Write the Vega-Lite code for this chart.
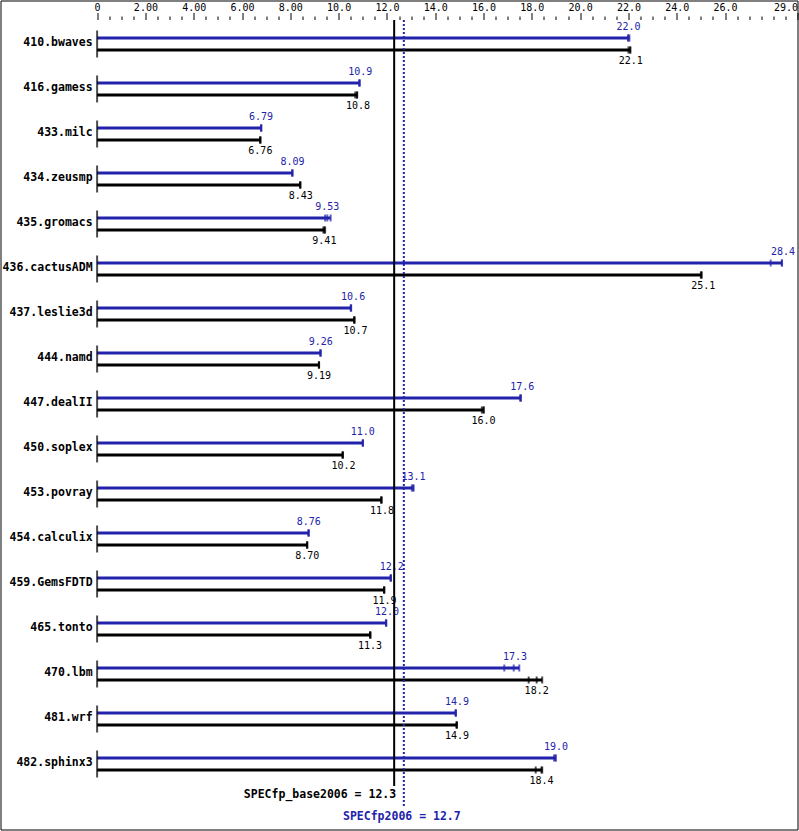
{
  "$schema": "https://vega.github.io/schema/vega-lite/v6.json",
  "width": 797,
  "height": 829,
  "autosize": "none",
  "padding": {"left": 0.5, "top": 0.5, "right": 1.5, "bottom": 1.5},
  "background": "white",
  "config": {"view": {"stroke": "black", "strokeWidth": 1}, "font": "DejaVu Sans Mono"},
  "resolve": {"axis": {"x": "independent"}},
  "datasets": {
    "scores": [
      {"bench": "410.bwaves", "type": "peak", "value": 22.0, "r1": 21.98, "r2": 22.0, "r3": 22.04},
      {"bench": "410.bwaves", "type": "base", "value": 22.1, "r1": 22.0, "r2": 22.07, "r3": 22.08},
      {"bench": "416.gamess", "type": "peak", "value": 10.9, "r1": 10.86, "r2": 10.86, "r3": 10.87},
      {"bench": "416.gamess", "type": "base", "value": 10.8, "r1": 10.69, "r2": 10.76, "r3": 10.77},
      {"bench": "433.milc", "type": "peak", "value": 6.79, "r1": 6.79, "r2": 6.79, "r3": 6.8},
      {"bench": "433.milc", "type": "base", "value": 6.76, "r1": 6.75, "r2": 6.76, "r3": 6.76},
      {"bench": "434.zeusmp", "type": "peak", "value": 8.09, "r1": 8.08, "r2": 8.08, "r3": 8.09},
      {"bench": "434.zeusmp", "type": "base", "value": 8.43, "r1": 8.4, "r2": 8.41, "r3": 8.42},
      {"bench": "435.gromacs", "type": "peak", "value": 9.53, "r1": 9.44, "r2": 9.53, "r3": 9.67},
      {"bench": "435.gromacs", "type": "base", "value": 9.41, "r1": 9.37, "r2": 9.41, "r3": 9.44},
      {"bench": "436.cactusADM", "type": "peak", "value": 28.4, "r1": 27.89, "r2": 28.35, "r3": 28.36},
      {"bench": "436.cactusADM", "type": "base", "value": 25.1, "r1": 25.0, "r2": 25.02, "r3": 25.03},
      {"bench": "437.leslie3d", "type": "peak", "value": 10.6, "r1": 10.5, "r2": 10.51, "r3": 10.52},
      {"bench": "437.leslie3d", "type": "base", "value": 10.7, "r1": 10.64, "r2": 10.65, "r3": 10.66},
      {"bench": "444.namd", "type": "peak", "value": 9.26, "r1": 9.24, "r2": 9.25, "r3": 9.26},
      {"bench": "444.namd", "type": "base", "value": 9.19, "r1": 9.18, "r2": 9.19, "r3": 9.19},
      {"bench": "447.dealII", "type": "peak", "value": 17.6, "r1": 17.52, "r2": 17.53, "r3": 17.55},
      {"bench": "447.dealII", "type": "base", "value": 16.0, "r1": 15.93, "r2": 16.0, "r3": 16.01},
      {"bench": "450.soplex", "type": "peak", "value": 11.0, "r1": 11.0, "r2": 11.0, "r3": 11.01},
      {"bench": "450.soplex", "type": "base", "value": 10.2, "r1": 10.16, "r2": 10.17, "r3": 10.18},
      {"bench": "453.povray", "type": "peak", "value": 13.1, "r1": 13.03, "r2": 13.09, "r3": 13.1},
      {"bench": "453.povray", "type": "base", "value": 11.8, "r1": 11.76, "r2": 11.77, "r3": 11.78},
      {"bench": "454.calculix", "type": "peak", "value": 8.76, "r1": 8.75, "r2": 8.76, "r3": 8.76},
      {"bench": "454.calculix", "type": "base", "value": 8.7, "r1": 8.69, "r2": 8.7, "r3": 8.7},
      {"bench": "459.GemsFDTD", "type": "peak", "value": 12.2, "r1": 12.15, "r2": 12.16, "r3": 12.17},
      {"bench": "459.GemsFDTD", "type": "base", "value": 11.9, "r1": 11.88, "r2": 11.89, "r3": 11.89},
      {"bench": "465.tonto", "type": "peak", "value": 12.0, "r1": 11.96, "r2": 11.97, "r3": 11.97},
      {"bench": "465.tonto", "type": "base", "value": 11.3, "r1": 11.3, "r2": 11.31, "r3": 11.32},
      {"bench": "470.lbm", "type": "peak", "value": 17.3, "r1": 16.86, "r2": 17.25, "r3": 17.48},
      {"bench": "470.lbm", "type": "base", "value": 18.2, "r1": 17.87, "r2": 18.2, "r3": 18.43},
      {"bench": "481.wrf", "type": "peak", "value": 14.9, "r1": 14.84, "r2": 14.85, "r3": 14.86},
      {"bench": "481.wrf", "type": "base", "value": 14.9, "r1": 14.88, "r2": 14.89, "r3": 14.9},
      {"bench": "482.sphinx3", "type": "peak", "value": 19.0, "r1": 18.92, "r2": 18.98, "r3": 18.99},
      {"bench": "482.sphinx3", "type": "base", "value": 18.4, "r1": 18.16, "r2": 18.4, "r3": 18.43}
    ],
    "refs": [
      {"type": "base", "v": 12.3, "text": "SPECfp_base2006 = 12.3"},
      {"type": "peak", "v": 12.7, "text": "SPECfp2006 = 12.7"}
    ]
  },
  "layer": [
    {
      "data": {"name": "scores"},
      "transform": [
        {"fold": ["r1", "r2", "r3"], "as": ["run", "rv"]},
        {"aggregate": [{"op": "max", "field": "rv", "as": "end"}], "groupby": ["bench", "type"]},
        {"filter": "datum.type == 'peak'"}
      ],
      "mark": {"type": "bar", "height": 3, "yOffset": -6, "color": "#2222aa"},
      "encoding": {
        "x": {
          "field": "end", "type": "quantitative",
          "scale": {"domain": [-4, 29], "nice": false, "zero": false},
          "axis": {
            "orient": "top", "offset": -19, "domain": false, "grid": false, "title": null,
            "values": [0, 2, 4, 6, 8, 10, 12, 14, 16, 18, 20, 22, 24, 26, 29],
            "tickSize": 7, "tickColor": "black", "tickWidth": 1,
            "labelExpr": "datum.value == 0 ? '0' : (datum.value < 10 ? format(datum.value, '.2f') : format(datum.value, '.1f'))",
            "labelFont": "DejaVu Sans Mono", "labelFontSize": 10, "labelColor": "black", "labelPadding": 0,
            "labelOverlap": false, "labelBound": false, "labelFlush": true
          }
        },
        "x2": {"datum": 0},
        "y": {"field": "bench", "type": "nominal", "sort": null, "axis": null,
              "scale": {"paddingInner": 0, "paddingOuter": 0.7111, "align": 0.328}}
      }
    },
    {
      "data": {"name": "scores"},
      "transform": [
        {"fold": ["r1", "r2", "r3"], "as": ["run", "rv"]},
        {"aggregate": [{"op": "max", "field": "rv", "as": "end"}], "groupby": ["bench", "type"]},
        {"filter": "datum.type == 'base'"}
      ],
      "mark": {"type": "bar", "height": 3, "yOffset": 6, "color": "black"},
      "encoding": {
        "x": {
          "field": "end", "type": "quantitative",
          "axis": {
            "orient": "top", "offset": -19, "domain": false, "grid": false, "title": null, "labels": false,
            "values": [0.5, 1, 1.5, 2.5, 3, 3.5, 4.5, 5, 5.5, 6.5, 7, 7.5, 8.5, 9, 9.5, 10.5, 11, 11.5, 12.5, 13, 13.5, 14.5, 15, 15.5, 16.5, 17, 17.5, 18.5, 19, 19.5, 20.5, 21, 21.5, 22.5, 23, 23.5, 24.5, 25, 25.5, 26.5, 27, 27.5, 28, 28.5],
            "tickSize": 3.5, "tickColor": "black", "tickWidth": 1
          }
        },
        "x2": {"datum": 0},
        "y": {"field": "bench", "type": "nominal", "sort": null, "axis": null}
      }
    },
    {
      "data": {"name": "scores"},
      "transform": [{"filter": "datum.type == 'peak'"}, {"fold": ["r1", "r2", "r3"], "as": ["run", "rv"]}],
      "mark": {"type": "tick", "size": 7, "thickness": 2, "yOffset": -6, "color": "#2222aa"},
      "encoding": {
        "x": {"field": "rv", "type": "quantitative", "axis": null},
        "y": {"field": "bench", "type": "nominal", "sort": null, "axis": null}
      }
    },
    {
      "data": {"name": "scores"},
      "transform": [{"filter": "datum.type == 'base'"}, {"fold": ["r1", "r2", "r3"], "as": ["run", "rv"]}],
      "mark": {"type": "tick", "size": 7, "thickness": 2, "yOffset": 6, "color": "black"},
      "encoding": {
        "x": {"field": "rv", "type": "quantitative", "axis": null},
        "y": {"field": "bench", "type": "nominal", "sort": null, "axis": null}
      }
    },
    {
      "data": {"name": "scores"},
      "transform": [{"filter": "datum.type == 'peak'"}],
      "mark": {"type": "tick", "size": 27, "thickness": 2, "color": "black"},
      "encoding": {
        "x": {"datum": 0, "type": "quantitative", "axis": null},
        "y": {"field": "bench", "type": "nominal", "sort": null, "axis": null}
      }
    },
    {
      "data": {"name": "scores"},
      "transform": [{"filter": "datum.type == 'peak'"}],
      "mark": {"type": "text", "yOffset": -17, "fontSize": 10, "color": "#2222aa", "baseline": "middle", "align": "center"},
      "encoding": {
        "x": {"field": "value", "type": "quantitative", "axis": null},
        "y": {"field": "bench", "type": "nominal", "sort": null, "axis": null},
        "text": {"field": "value", "type": "quantitative", "format": ".3r"}
      }
    },
    {
      "data": {"name": "scores"},
      "transform": [{"filter": "datum.type == 'base'"}],
      "mark": {"type": "text", "yOffset": 17, "fontSize": 10, "color": "black", "baseline": "middle", "align": "center"},
      "encoding": {
        "x": {"field": "value", "type": "quantitative", "axis": null},
        "y": {"field": "bench", "type": "nominal", "sort": null, "axis": null},
        "text": {"field": "value", "type": "quantitative", "format": ".3r"}
      }
    },
    {
      "data": {"name": "scores"},
      "transform": [{"filter": "datum.type == 'peak'"}],
      "mark": {"type": "text", "dx": -4.5, "dy": -0.5, "fontSize": 11.5, "fontWeight": "bold", "color": "black", "baseline": "middle", "align": "right"},
      "encoding": {
        "x": {"datum": 0, "type": "quantitative", "axis": null},
        "y": {"field": "bench", "type": "nominal", "sort": null, "axis": null},
        "text": {"field": "bench", "type": "nominal"}
      }
    },
    {
      "data": {"name": "refs"},
      "transform": [{"filter": "datum.type == 'base'"}],
      "mark": {"type": "rule", "strokeWidth": 2, "color": "black", "yOffset": -24, "y2Offset": 22},
      "encoding": {
        "x": {"field": "v", "type": "quantitative", "axis": null},
        "y": {"datum": "410.bwaves", "type": "nominal"},
        "y2": {"datum": "482.sphinx3"}
      }
    },
    {
      "data": {"name": "refs"},
      "transform": [{"filter": "datum.type == 'peak'"}],
      "mark": {"type": "rule", "strokeWidth": 2, "color": "#2222aa", "strokeDash": [2, 2], "yOffset": -24, "y2Offset": 44},
      "encoding": {
        "x": {"field": "v", "type": "quantitative", "axis": null},
        "y": {"datum": "410.bwaves", "type": "nominal"},
        "y2": {"datum": "482.sphinx3"}
      }
    },
    {
      "data": {"name": "refs"},
      "transform": [{"filter": "datum.type == 'base'"}],
      "mark": {"type": "text", "dx": 2, "dy": 31, "fontSize": 11.5, "fontWeight": "bold", "color": "black", "baseline": "middle", "align": "right"},
      "encoding": {
        "x": {"field": "v", "type": "quantitative", "axis": null},
        "y": {"datum": "482.sphinx3", "type": "nominal"},
        "text": {"field": "text", "type": "nominal"}
      }
    },
    {
      "data": {"name": "refs"},
      "transform": [{"filter": "datum.type == 'peak'"}],
      "mark": {"type": "text", "dx": -2, "dy": 53, "fontSize": 11.5, "fontWeight": "bold", "color": "#2222aa", "baseline": "middle", "align": "center"},
      "encoding": {
        "x": {"field": "v", "type": "quantitative", "axis": null},
        "y": {"datum": "482.sphinx3", "type": "nominal"},
        "text": {"field": "text", "type": "nominal"}
      }
    }
  ]
}
